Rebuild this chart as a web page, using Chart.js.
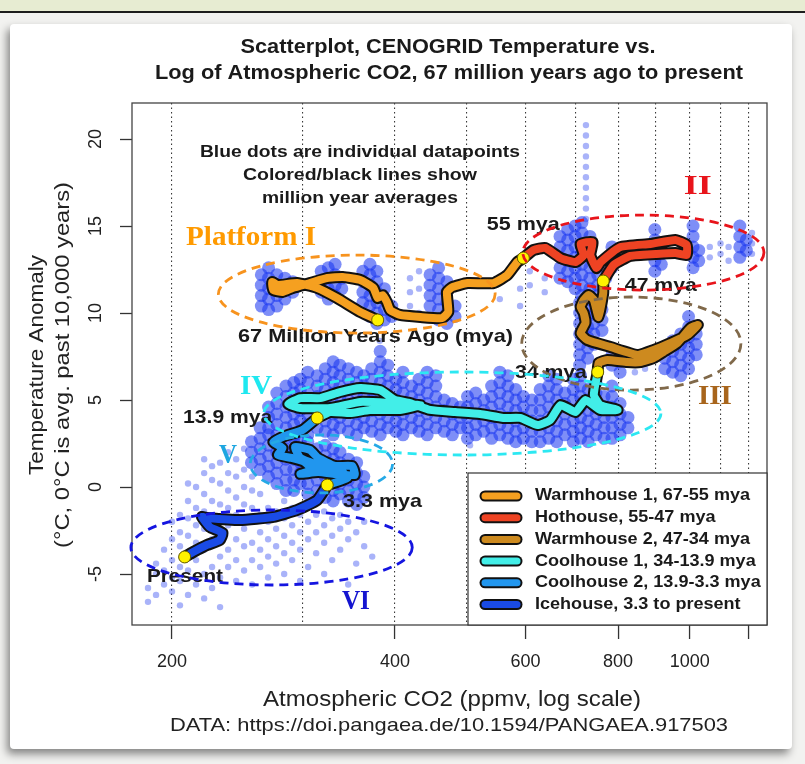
<!DOCTYPE html>
<html lang="en">
<head>
<meta charset="UTF-8">
<title>CENOGRID Temperature vs. CO2</title>
<script src="https://cdn.jsdelivr.net/npm/chart.js"></script>
<style>
  html, body { margin: 0; padding: 0; }
  body { width: 805px; height: 764px; background: #f2f2f0; position: relative; overflow: hidden; }
  .topband { position: absolute; left: 0; top: 0; width: 805px; height: 11px; background: #e7ecd2; border-bottom: 2px solid #1d1d1d; }
  .card { position: absolute; left: 10px; top: 24px; width: 782px; height: 725px; background: #fff; border-radius: 4px; box-shadow: -3px 5px 8px rgba(0,0,0,0.45); }
  canvas { position: absolute; left: 0; top: 0; }
</style>
</head>
<body>
<div class="topband"></div>
<div class="card"></div>
<canvas id="chart" width="805" height="764"></canvas>
<script>
// axis ticks
const xGrid = [200, 300, 400, 500, 600, 700, 800, 900, 1000, 1100, 1200];
const xLabels = [200, 400, 600, 800, 1000];
const xMarks = [200, 400, 600, 800, 1000, 1200];
const yTicks = [-5, 0, 5, 10, 15, 20];

// million-year averages, [CO2 ppmv, temperature anomaly C]
const warmhouse1 = [[379,9.60],[359,10.06],[334,10.86],[314,11.44],[295,11.72],[278,11.61],[273,11.78],[274,11.32],[282,11.21],[291,11.44],[307,11.72],[324,12.01],[340,12.07],[359,11.90],[374,11.44],[379,10.86],[385,11.03],[390,10.63],[394,10.17],[406,9.89],[433,9.77],[463,9.71],[472,10.06],[470,11.21],[478,11.49],[501,11.72],[543,11.72],[567,12.18],[585,12.93],[596,13.16]];
const hothouse = [[596,13.16],[615,13.62],[638,13.74],[669,13.16],[701,12.93],[719,13.33],[712,13.97],[739,14.08],[734,13.33],[748,12.59],[758,12.93],[806,13.79],[885,13.97],[956,14.20],[990,13.91],[990,13.33],[956,13.45],[899,13.39],[831,13.28],[789,12.76],[764,11.84]];
const warmhouse2 = [[764,11.84],[764,11.15],[753,9.77],[742,10.75],[730,11.03],[719,10.75],[712,10.34],[719,10.00],[723,9.43],[712,8.85],[727,8.45],[781,8.05],[850,7.59],[893,7.87],[942,8.28],[993,8.74],[1025,9.31],[1002,9.14],[962,8.28],[921,7.76],[893,7.41],[858,7.18],[823,7.18],[774,7.30],[753,7.13],[751,6.61]];
const coolhouse1 = [[751,6.61],[742,5.29],[757,4.71],[799,4.43],[757,4.43],[723,5.00],[701,4.31],[669,4.71],[648,3.85],[623,3.56],[590,3.97],[560,3.97],[521,4.20],[482,4.31],[446,4.43],[419,4.83],[400,5.00],[382,5.57],[359,5.69],[337,5.46],[317,5.11],[298,5.11],[287,4.77],[298,4.54],[327,4.54],[359,4.89],[394,4.83],[433,4.71],[406,4.43],[370,4.43],[348,4.25],[327,4.31],[314,3.97]];
const coolhouse2 = [[314,3.97],[300,3.28],[284,2.93],[274,2.59],[282,2.24],[278,1.84],[290,1.67],[302,1.44],[309,0.98],[298,0.75],[315,0.86],[332,0.75],[353,0.69],[350,1.21],[332,1.21],[315,1.67],[307,2.13],[293,2.30],[298,1.67],[315,1.26],[337,0.98],[345,0.52],[324,0.11]];
const icehouse = [[324,0.11],[314,-0.75],[295,-1.32],[274,-1.72],[247,-1.90],[223,-1.78],[219.5,-1.72],[225,-2.30],[234,-2.64],[232,-3.05],[223,-3.33],[213.5,-3.74],[208,-4.02]];

const eraNames = ['Warmhouse 1, 67-55 mya', 'Hothouse, 55-47 mya', 'Warmhouse 2, 47-34 mya', 'Coolhouse 1, 34-13.9 mya', 'Coolhouse 2, 13.9-3.3 mya', 'Icehouse, 3.3 to present'];
const eraPaths = [warmhouse1, hothouse, warmhouse2, coolhouse1, coolhouse2, icehouse];
const eraColors = ['#F5A020', '#EE4323', '#CD8A1F', '#42EEE8', '#2196EE', '#1A4BE6'];

// boundary points (yellow dots)
const milestones = [[379,9.60],[596,13.16],[764,11.84],[751,6.61],[314,3.97],[324,0.11],[208,-4.02]];

// individual datapoints, as columns [CO2, [temperatures]]
const dotsWarm1 = [[264,[10.4,11.0,11.6,12.2]],[270,[10.2,10.8,11.4,12.0,12.6]],[277,[10.4,11.0,11.6,12.2]],[284,[10.8,11.4,12.0]],[291,[11.2,11.8]],[318,[11.2,11.8,12.4]],[325,[10.8,11.4,12.0,12.6]],[332,[11.0,11.6,12.2,12.8]],[339,[11.4,12.0]],[362,[10.6,11.2,11.8,12.4]],[370,[9.8,10.4,11.0,11.6,12.2,12.8]],[378,[9.4,10.0,10.6,11.2,11.8,12.4]],[387,[9.6,10.2,10.8,11.4]],[396,[9.8,10.4]],[446,[10.4,11.0,11.6,12.2]],[458,[9.6,10.2,10.8,11.4,12.0,12.6]],[470,[9.4,10.0,10.6,11.2,11.8]],[482,[9.8,10.4]]];
const dotsHot = [[668,[12.0,12.6,13.2,13.8,14.4]],[684,[11.8,12.4,13.0,13.6,14.2,14.8]],[700,[11.4,12.0,12.6,13.2,13.8,14.4,15.0]],[715,[11.0,11.6,12.2,12.8,13.4,14.0,14.6,15.2]],[733,[11.4,12.0,12.6,13.2,13.8,14.4]],[751,[11.0,11.6,12.2,12.8]],[770,[12.0,12.6]],[785,[12.6,13.2,13.8]],[897,[12.4,13.0,13.6,14.2,14.8]],[915,[12.8,13.4,14.0]],[1010,[12.6,13.2,13.8,14.4,15.0]],[1028,[13.0,13.6]],[1168,[13.2,13.8,14.4,15.0]],[1192,[13.6,14.2]]];
const dotsWarm2 = [[710,[7.0,7.6,8.2,8.8,9.4,10.0,10.6]],[728,[7.4,8.0,8.6,9.2,9.8,10.4,11.0]],[742,[8.2,8.8,9.4,10.0,10.6]],[761,[9.0,9.6,10.2]],[785,[7.0,7.6]],[805,[6.6,7.2]],[925,[6.8,7.4,8.0]],[948,[6.6,7.2,7.8,8.4]],[972,[6.4,7.0,7.6,8.2,8.8]],[996,[6.8,7.4,8.0,8.6,9.2,9.8]],[1020,[7.6,8.2,8.8]]];
const dotsCool1 = [[270,[3.4,4.0,4.6]],[277,[3.0,3.6,4.2,4.8,5.4]],[285,[2.8,3.4,4.0,4.6,5.2,5.8]],[292,[3.0,3.6,4.2,4.8,5.4,6.0]],[298,[3.2,3.8,4.4,5.0,5.6,6.2]],[305,[3.0,3.6,4.2,4.8,5.4,6.0,6.6]],[314,[3.4,4.0,4.6,5.2,5.8,6.4]],[322,[3.2,3.8,4.4,5.0,5.6,6.2,6.8]],[330,[3.0,3.6,4.2,4.8,5.4,6.0,6.6,7.2]],[337,[3.4,4.0,4.6,5.2,5.8,6.4,7.0]],[346,[3.2,3.8,4.4,5.0,5.6,6.2,6.8]],[355,[3.0,3.6,4.2,4.8,5.4,6.0,6.6]],[363,[3.4,4.0,4.6,5.2,5.8,6.4]],[372,[3.2,3.8,4.4,5.0,5.6,6.2,6.8]],[382,[3.0,3.6,4.2,4.8,5.4,6.0,6.6,7.2,7.8]],[391,[3.4,4.0,4.6,5.2,5.8,6.4,7.0]],[401,[3.2,3.8,4.4,5.0,5.6,6.2]],[410,[3.0,3.6,4.2,4.8,5.4,6.0,6.6]],[421,[3.4,4.0,4.6,5.2,5.8]],[431,[3.2,3.8,4.4,5.0,5.6,6.2]],[442,[3.0,3.6,4.2,4.8,5.4,6.0,6.6]],[454,[3.4,4.0,4.6,5.2,5.8,6.4]],[466,[3.2,3.8,4.4,5.0]],[478,[3.0,3.6,4.2,4.8]],[490,[3.4,4.0,4.6]],[501,[2.8,3.4,4.0,4.6,5.2]],[514,[3.0,3.6,4.2,4.8,5.4]],[527,[3.2,3.8,4.4,5.0]],[540,[2.8,3.4,4.0,4.6,5.2,5.8]],[554,[3.0,3.6,4.2,4.8,5.4,6.0,6.6]],[568,[2.8,3.4,4.0,4.6,5.2,5.8,6.4]],[582,[2.6,3.2,3.8,4.4,5.0,5.6]],[596,[2.8,3.4,4.0,4.6,5.2]],[612,[2.6,3.2,3.8,4.4,5.0]],[628,[2.6,3.2,3.8,4.4,5.0,5.6]],[645,[2.8,3.4,4.0,4.6,5.2,5.8,6.4]],[661,[2.6,3.2,3.8,4.4,5.0,5.6,6.2]],[678,[3.0,3.6,4.2,4.8,5.4]],[696,[2.6,3.2,3.8,4.4,5.0,5.6,6.2]],[712,[2.8,3.4,4.0,4.6,5.2,5.8,6.4]],[729,[2.6,3.2,3.8,4.4,5.0,5.6]],[747,[3.0,3.6,4.2,4.8,5.4,6.0]],[766,[2.8,3.4,4.0,4.6,5.2]],[785,[2.8,3.4,4.0,4.6,5.2,5.8]],[805,[3.0,3.6,4.2,4.8]],[825,[3.4,4.0]]];
const dotsCool2 = [[256,[1.4,2.0,2.6]],[263,[1.0,1.6,2.2,2.8,3.4]],[270,[0.6,1.2,1.8,2.4,3.0]],[277,[0.2,0.8,1.4,2.0,2.6]],[285,[-0.2,0.4,1.0,1.6,2.2]],[292,[-0.2,0.4,1.0,1.6,2.2,2.8]],[298,[0.2,0.8,1.4,2.0,2.6]],[305,[-0.4,0.2,0.8,1.4,2.0,2.6]],[314,[-0.2,0.4,1.0,1.6,2.2]],[322,[-0.6,0.0,0.6,1.2,1.8,2.4]],[330,[-0.8,-0.2,0.4,1.0,1.6,2.2]],[337,[-0.4,0.2,0.8,1.4,2.0]],[346,[-0.8,-0.2,0.4,1.0,1.6]],[355,[-1.0,-0.4,0.2,0.8,1.4]],[363,[-0.6,0.0,0.6]]];
const dotsIce = [[185.6,[-6.6,-5.8]],[190.3,[-6.2,-5.0,-4.4]],[195.1,[-5.6,-4.8,-3.6]],[200,[-6.0,-5.2,-4.2,-3.0,-2.0]],[205,[-6.8,-5.4,-4.6,-3.4,-2.6,-1.6]],[210.2,[-6.2,-4.8,-3.8,-2.8,-1.8,-0.8,0.2]],[215.5,[-5.6,-4.2,-3.2,-2.2,-1.2,0.0]],[221,[-6.4,-5.0,-3.6,-2.4,-1.4,-0.4,0.8,1.6]],[226.5,[-5.8,-4.6,-3.0,-1.8,-0.8,0.4,1.2]],[232.2,[-6.9,-5.2,-4.0,-2.8,-1.0,0.2,1.4]],[238.1,[-4.6,-3.6,-2.2,-1.2,-0.2,0.8,2.0]],[244.1,[-5.4,-4.2,-3.0,-1.6,-0.6,0.6,1.6]],[250.2,[-4.8,-3.4,-2.4,-1.0,0.0,1.0,2.2]],[256.5,[-5.6,-4.2,-3.2,-2.0,-1.2,-0.2,0.6]],[263,[-4.6,-3.6,-2.6,-1.6,-0.4]],[269.6,[-5.2,-4.0,-3.0,-2.0,-1.2]],[276.4,[-4.4,-3.4,-2.4,-1.4]],[283.4,[-5.0,-3.8,-2.8,-1.8,-0.8]],[290.5,[-4.2,-3.2,-2.2,-1.2]],[297.8,[-5.4,-3.6,-2.6,-1.6]],[305.3,[-4.6,-3.0,-2.0,-1.0]],[313,[-3.8,-2.6,-1.6]],[320.9,[-5.0,-3.2,-2.2,-1.4]],[329,[-4.2,-2.8,-1.8]],[337.3,[-3.6,-2.4,-1.6]],[345.8,[-5.6,-3.0,-2.0]],[354.5,[-4.4,-2.6]],[363.4,[-3.4,-2.0]],[372.6,[-4.0]]];
const dotsFaint = [[419,[10.4,11.2,12.0]],[431,[10.0,11.4,12.4]],[554,[10.8,12.0]],[590,[10.4,11.4]],[608,[11.6,12.4]],[637,[11.2,12.0]],[724,[15.4,16.0,16.6,17.2,17.8,18.4,19.0,19.6,20.2,20.8]],[1064,[13.2,13.8]],[1100,[13.4,14.0]],[1128,[13.0,13.8]],[1213,[13.4,14.0,14.6]],[843,[6.6,7.2]],[870,[6.8,7.4]],[505,[2.4]],[381.5,[8.4]]];

// annotation ellipses, bounds in data units: [CO2 left, CO2 right, temp top, temp bottom]
const ellipseBounds = [[231,546,13.33,8.85],[595,1259,15.63,11.32],[593,1172,10.92,5.57],[266,914,6.61,1.84],[255,397,2.99,-0.34],[176,422,-1.32,-5.63]];
const ellipseColors = ['#F7931E', '#E8141B', '#80694A', '#2CE8F2', '#25A9E6', '#1515E0'];

const font = '"Liberation Sans", Arial, sans-serif';
const serif = '"Liberation Serif", "Times New Roman", serif';

const toPoints = cols => cols.flatMap(([c, temps]) => temps.map(t => ({x: c, y: t})));
const toXY = arr => arr.map(([c, t]) => ({x: c, y: t}));

const datasets = [
  {type: 'scatter', data: toPoints([...dotsIce, ...dotsFaint]), pointRadius: 3.2, backgroundColor: 'rgba(50,75,240,0.42)', borderWidth: 0, order: 100},
  {type: 'scatter', data: toPoints([...dotsWarm1, ...dotsHot, ...dotsWarm2, ...dotsCool1, ...dotsCool2]), pointRadius: 6.5, backgroundColor: 'rgba(20,50,240,0.55)', borderWidth: 0, order: 99}
];
eraPaths.forEach((path, i) => {
  const base = {type: 'line', data: toXY(path), pointRadius: 0, fill: false, tension: 0.15, borderCapStyle: 'round', borderJoinStyle: 'round'};
  datasets.push({...base, borderColor: '#111', borderWidth: 12, order: 50 - 2 * i});
  datasets.push({...base, borderColor: eraColors[i], borderWidth: 8, order: 49 - 2 * i});
});
datasets.push({type: 'scatter', data: toXY(milestones), pointRadius: 6, backgroundColor: '#FFF200', borderColor: '#6b6000', borderWidth: 1, order: 0});

// text, optionally squeezed/stretched horizontally to a given width
function text(ctx, s, x, y, f, color, align, w) {
  ctx.save();
  ctx.font = f;
  ctx.fillStyle = color;
  ctx.textAlign = align || 'center';
  ctx.textBaseline = 'middle';
  const sx = w ? w / ctx.measureText(s).width : 1;
  ctx.translate(x, y);
  ctx.scale(sx, 1);
  ctx.fillText(s, 0, 0);
  ctx.restore();
}

const overlay = {
  id: 'overlay',
  afterDatasetsDraw(chart) {
    const {ctx, chartArea: a, scales} = chart;
    const px = v => scales.x.getPixelForValue(v);
    const py = v => scales.y.getPixelForValue(v);
    ctx.save();

    // plot box
    ctx.strokeStyle = '#444';
    ctx.lineWidth = 1.3;
    ctx.strokeRect(a.left, a.top, a.right - a.left, a.bottom - a.top);

    // titles
    text(ctx, 'Scatterplot, CENOGRID Temperature vs.', 448, 47, 'bold 21px ' + font, '#1a1a1a', 'center', 415);
    text(ctx, 'Log of Atmospheric CO2, 67 million years ago to present', 449, 73, 'bold 21px ' + font, '#1a1a1a', 'center', 588);
    text(ctx, 'Atmospheric CO2 (ppmv, log scale)', 452, 700, '22px ' + font, '#222', 'center', 378);
    text(ctx, 'DATA: https://doi.pangaea.de/10.1594/PANGAEA.917503', 449, 726, '19px ' + font, '#222', 'center', 558);

    // y tick labels and title, rotated like R
    yTicks.forEach(v => {
      ctx.save();
      ctx.translate(a.left - 36, py(v));
      ctx.rotate(-Math.PI / 2);
      text(ctx, String(v), 0, 0, '18px ' + font, '#222');
      ctx.restore();
    });
    ctx.save();
    ctx.translate(37, 365);
    ctx.rotate(-Math.PI / 2);
    text(ctx, 'Temperature Anomaly', 0, 0, '21px ' + font, '#222', 'center', 220);
    text(ctx, '(\u00B0C, 0\u00B0C is avg. past 10,000 years)', 0, 26, '21px ' + font, '#222', 'center', 366);
    ctx.restore();

    // notes
    const nb = 'bold 16px ' + font;
    text(ctx, 'Blue dots are individual datapoints', px(358.6), py(19.2), nb, '#1a1a1a', 'center', 320);
    text(ctx, 'Colored/black lines show', px(358.6), py(17.87), nb, '#1a1a1a', 'center', 234);
    text(ctx, 'million year averages', px(358.6), py(16.6), nb, '#1a1a1a', 'center', 196);

    const lb = 'bold 19px ' + font;
    text(ctx, '55 mya', px(532), py(15.06), lb, '#1a1a1a', 'left', 73);
    text(ctx, '47 mya', px(817), py(11.55), lb, '#1a1a1a', 'left', 72);
    text(ctx, '67 Million Years Ago (mya)', px(245.5), py(8.62), lb, '#1a1a1a', 'left', 275);
    text(ctx, '34 mya', px(580.6), py(6.55), lb, '#1a1a1a', 'left', 72);
    text(ctx, '13.9 mya', px(207), py(3.97), lb, '#1a1a1a', 'left', 89);
    text(ctx, '3.3 mya', px(340.3), py(-0.86), lb, '#1a1a1a', 'left', 79);
    text(ctx, 'Present', px(185), py(-5.17), lb, '#1a1a1a', 'left', 76);

    // era labels
    const rb = 'bold 27px ' + serif;
    text(ctx, 'Platform I', px(208.9), py(14.31), rb, '#FF9A00', 'left', 130);
    text(ctx, 'II', px(1025), py(17.24), rb, '#E8141B', 'center', 28);
    text(ctx, 'III', px(1081), py(5.17), rb, '#A8651C', 'center', 34);
    text(ctx, 'IV', px(259.7), py(5.75), rb, '#1EE8F0', 'center', 32);
    text(ctx, 'V', px(238), py(1.78), rb, '#1EA6E0', 'center', 18);
    text(ctx, 'VI', px(354.2), py(-6.61), rb, '#1414D0', 'center', 28);

    // legend
    const lx = a.right - 299, ly = a.bottom - 152;
    ctx.fillStyle = '#fff';
    ctx.fillRect(lx, ly, a.right - lx, a.bottom - ly);
    ctx.strokeStyle = '#333';
    ctx.lineWidth = 1.2;
    ctx.strokeRect(lx, ly, a.right - lx, a.bottom - ly);
    ctx.lineCap = 'round';
    ctx.font = 'bold 16px ' + font;
    const lsx = 215 / ctx.measureText(eraNames[0]).width;
    eraNames.forEach((name, i) => {
      const yy = ly + 23 + i * 21.7;
      ctx.beginPath();
      ctx.moveTo(lx + 17, yy);
      ctx.lineTo(lx + 49, yy);
      ctx.strokeStyle = '#111';
      ctx.lineWidth = 11;
      ctx.stroke();
      ctx.strokeStyle = eraColors[i];
      ctx.lineWidth = 7;
      ctx.stroke();
      ctx.font = 'bold 16px ' + font;
      text(ctx, name, lx + 67, yy, 'bold 16px ' + font, '#1a1a1a', 'left', ctx.measureText(name).width * lsx);
    });

    // dashed ellipses
    ctx.setLineDash([9, 6]);
    ctx.lineWidth = 2.8;
    ctx.lineCap = 'butt';
    ellipseBounds.forEach(([c0, c1, t0, t1], i) => {
      const x0 = px(c0), x1 = px(c1), y0 = py(t0), y1 = py(t1);
      ctx.beginPath();
      ctx.ellipse((x0 + x1) / 2, (y0 + y1) / 2, (x1 - x0) / 2, (y1 - y0) / 2, 0, 0, Math.PI * 2);
      ctx.strokeStyle = ellipseColors[i];
      ctx.stroke();
    });
    ctx.restore();
  }
};

new Chart(document.getElementById('chart'), {
  type: 'scatter',
  data: {datasets},
  options: {
    responsive: false,
    animation: false,
    devicePixelRatio: 1,
    layout: {padding: {left: 92, top: 103, right: 38, bottom: 79}},
    plugins: {legend: {display: false}, tooltip: {enabled: false}},
    scales: {
      x: {
        type: 'logarithmic', min: 176.6, max: 1271,
        afterBuildTicks: s => { s.ticks = xGrid.map(v => ({value: v})); },
        afterFit: s => { s.height = 60; },
        grid: {
          color: '#3a3a3a', lineWidth: 1.1, tickLength: 14, tickWidth: 1.3,
          borderDash: [1.5, 3],
          tickColor: c => (c.tick && xMarks.includes(c.tick.value)) ? '#333' : 'rgba(0,0,0,0)'
        },
        border: {display: false, dash: [1.5, 3]},
        ticks: {
          autoSkip: false, maxRotation: 0, minRotation: 0, padding: 12, color: '#222',
          font: {size: 18, family: font},
          callback: v => xLabels.includes(v) ? String(v) : ''
        }
      },
      y: {
        min: -7.93, max: 22.07,
        afterBuildTicks: s => { s.ticks = yTicks.map(v => ({value: v})); },
        afterFit: s => { s.width = 40; },
        grid: {drawOnChartArea: false, tickLength: 12, tickColor: '#333', tickWidth: 1.3},
        border: {display: false},
        ticks: {display: false}
      }
    }
  },
  plugins: [overlay]
});
</script>
</body>
</html>
